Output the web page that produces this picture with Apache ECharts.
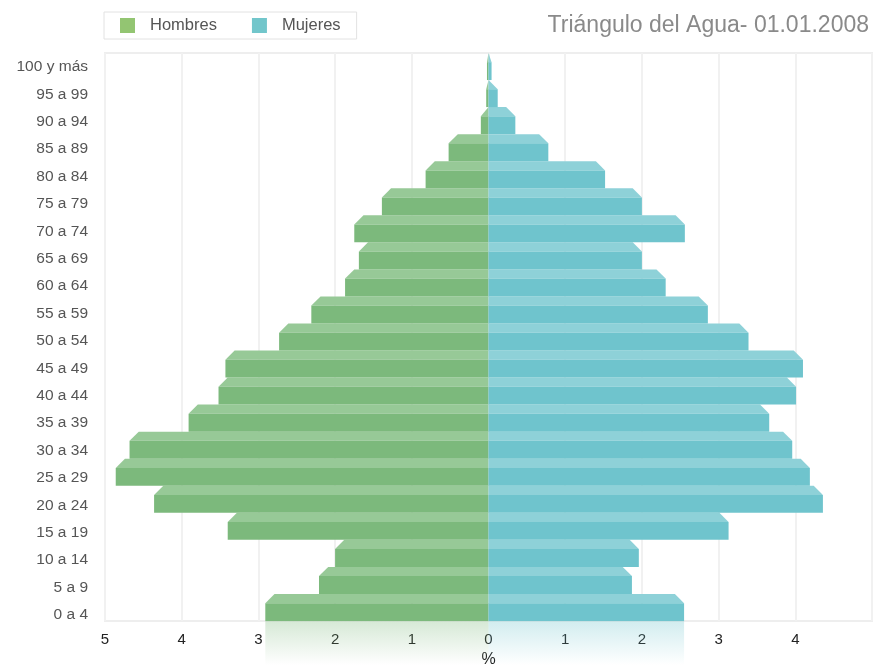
<!DOCTYPE html>
<html>
<head>
<meta charset="utf-8">
<script src="https://cdn.jsdelivr.net/npm/echarts@6/dist/echarts.min.js"></script>
<style>
  html, body { margin: 0; padding: 0; background: #fff; }
  #piramide { width: 876px; height: 666px; }
</style>
</head>
<body>
<div id="piramide"></div>
<script>
// grupos de edad, de abajo a arriba
var grupos = ['0 a 4', '5 a 9', '10 a 14', '15 a 19', '20 a 24', '25 a 29', '30 a 34',
  '35 a 39', '40 a 44', '45 a 49', '50 a 54', '55 a 59', '60 a 64', '65 a 69',
  '70 a 74', '75 a 79', '80 a 84', '85 a 89', '90 a 94', '95 a 99', '100 y más'];
// % de la poblacion
var hombres = [2.91, 2.21, 2.0, 3.40, 4.36, 4.86, 4.68, 3.91, 3.52, 3.43, 2.73,
  2.31, 1.87, 1.69, 1.75, 1.39, 0.82, 0.52, 0.1, 0.03, 0.02];
var mujeres = [2.55, 1.87, 1.96, 3.13, 4.36, 4.19, 3.96, 3.66, 4.01, 4.1, 3.39,
  2.86, 2.31, 2.0, 2.56, 2.0, 1.52, 0.78, 0.35, 0.12, 0.04];
var ticksX = [-5, -4, -3, -2, -1, 0, 1, 2, 3, 4, 5];

var verde = { frente: '#7cb97c', arriba: '#97c997', leyenda: '#93c572' };
var azul = { frente: '#6fc4cd', arriba: '#8ed1d8', leyenda: '#72c6cb' };

function barra3d(col) {
  return function (params, api) {
    var v = api.value(0), cat = api.value(1);
    var base = api.coord([0, cat]);
    var fin = api.coord([v, cat]);
    var h = api.size([0, 1])[1];
    var yTop = base[1] - h / 2;
    var ySplit = yTop + h * 0.34;
    var yBot = base[1] + h / 2;
    var dir = v < 0 ? -1 : 1;
    var bevel = Math.min(h * 0.34, Math.abs(fin[0] - base[0]));
    var hijos = [
      { type: 'polygon', shape: { points: [[base[0], yTop], [fin[0] - dir * bevel, yTop], [fin[0], ySplit], [base[0], ySplit]] },
        style: { fill: col.arriba } },
      { type: 'rect', shape: { x: Math.min(base[0], fin[0]), y: ySplit, width: Math.abs(fin[0] - base[0]), height: yBot - ySplit },
        style: { fill: col.frente } }
    ];
    // reflejo suave bajo el eje
    if (params.dataIndex === 0) {
      hijos.push({ type: 'rect', silent: true,
        shape: { x: Math.min(base[0], fin[0]), y: yBot, width: Math.abs(fin[0] - base[0]), height: 44 },
        style: { fill: new echarts.graphic.LinearGradient(0, 0, 0, 1, [
          { offset: 0, color: col.frente + '50' }, { offset: 1, color: col.frente + '00' }]) } });
    }
    return { type: 'group', children: hijos };
  };
}

// las etiquetas del original bajan un poco respecto a la banda, mas abajo cuanto mas jovenes
var richY = {};
grupos.forEach(function (g, i) {
  var off = 7.5 - i * 0.36;
  richY['l' + i] = off >= 0 ? { padding: [off * 2, 0, 0, 0] } : { padding: [0, 0, -off * 2, 0] };
});

var myChart = echarts.init(document.getElementById('piramide'));
var option = {
  backgroundColor: '#fff',
  textStyle: { fontFamily: 'Liberation Sans, Arial, sans-serif' },
  title: {
    text: 'Triángulo del Agua- 01.01.2008',
    right: 2, top: 9,
    textStyle: { fontSize: 23, fontWeight: 'normal', color: '#8a8a8a' }
  },
  legend: {
    left: 104, top: 12,
    padding: [5, 16, 5, 16],
    borderColor: '#e2e2e2', borderWidth: 1,
    itemWidth: 15, itemHeight: 15, itemGap: 35,
    icon: 'rect',
    textStyle: { fontSize: 16.5, color: '#555', padding: [0, 0, 0, 10] },
    data: ['Hombres', 'Mujeres']
  },
  grid: {
    left: 105, right: 4, top: 53, bottom: 45,
    outerBoundsMode: 'none',
    show: true, borderColor: '#eeeeee', borderWidth: 2
  },
  xAxis: {
    type: 'value', min: ticksX[0], max: ticksX[ticksX.length - 1], interval: 1,
    name: '%', nameLocation: 'middle', nameGap: 31,
    nameTextStyle: { fontSize: 16, color: '#222' },
    axisLine: { show: false }, axisTick: { show: false },
    axisLabel: { fontSize: 15, color: '#222', margin: 11,
      formatter: function (v) { return v === 5 ? '' : String(Math.abs(v)); } },
    splitLine: { lineStyle: { color: '#f1f1f1', width: 2 } }
  },
  yAxis: {
    type: 'category', data: grupos,
    axisLine: { show: false }, axisTick: { show: false },
    axisLabel: { fontSize: 15.5, color: '#555', margin: 17,
      formatter: function (v, i) { return '{l' + i + '|' + v + '}'; },
      rich: richY },
    splitLine: { show: false }
  },
  series: [
    { name: 'Hombres', type: 'custom', renderItem: barra3d(verde),
      itemStyle: { color: verde.leyenda }, encode: { x: 0, y: 1 },
      data: hombres.map(function (v, i) { return [-v, i]; }) },
    { name: 'Mujeres', type: 'custom', renderItem: barra3d(azul),
      itemStyle: { color: azul.leyenda }, encode: { x: 0, y: 1 },
      data: mujeres.map(function (v, i) { return [v, i]; }) }
  ]
};
myChart.setOption(option);
</script>
</body>
</html>
